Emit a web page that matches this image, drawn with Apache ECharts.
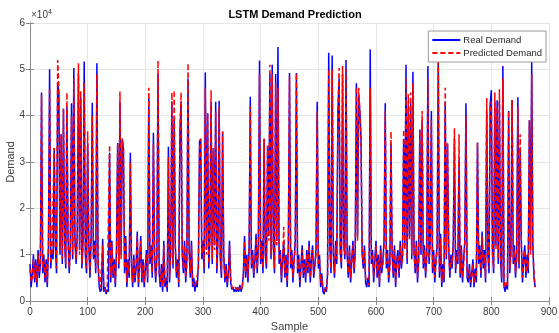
<!DOCTYPE html>
<html>
<head>
<meta charset="utf-8">
<title>LSTM Demand Prediction</title>
<script src="https://cdn.jsdelivr.net/npm/echarts@6/dist/echarts.min.js"></script>
<style>
  html, body { margin: 0; padding: 0; background: #fff; }
  #main { width: 559px; height: 333px; }
</style>
</head>
<body>
<div id="main"></div>
<script>
// demand values in units of 1e4, one value every 2 samples (sample = i * 2)
var sampleStep = 2;
var xTicks = [0, 100, 200, 300, 400, 500, 600, 700, 800, 900];
var yTicks = [0, 1, 2, 3, 4, 5, 6];

var realDemand = [
  0.8,0.3,0.6,1.0,0.4,0.9,0.3,1.1,0.5,0.8,4.5,0.6,1.0,0.4,0.9,0.3,1.2,5.0,0.7,1.1,
  0.9,3.3,1.2,0.6,4.7,4.5,1.0,3.6,0.8,4.15,1.3,0.7,4.2,1.4,0.6,1.2,4.27,0.9,5.03,1.3,
  0.8,1.5,4.9,1.1,4.4,0.7,1.3,5.17,1.0,0.6,3.4,1.2,0.5,1.4,4.28,0.9,1.3,0.6,5.13,0.8,
  0.3,0.2,0.25,1.34,0.2,0.3,0.15,0.25,0.2,3.2,0.4,1.3,0.5,0.9,0.3,1.1,3.41,0.7,4.3,1.0,
  3.5,3.3,0.6,1.4,0.3,0.9,0.5,3.2,0.8,0.3,1.0,0.4,0.7,1.5,0.3,0.8,1.4,0.4,0.9,0.3,
  0.7,1.1,0.4,4.4,0.8,1.2,0.5,3.63,0.9,0.4,1.0,4.9,0.6,0.3,0.8,0.2,1.3,0.3,0.5,0.2,
  3.33,0.4,1.1,4.3,0.7,3.9,1.2,0.5,0.9,0.3,3.66,4.3,1.0,0.6,1.3,0.4,0.9,4.8,1.1,0.5,
  1.3,0.3,0.5,0.2,0.4,0.3,0.8,3.44,3.5,0.9,1.3,0.6,4.93,1.1,4.05,0.7,1.4,4.3,0.8,3.3,
  1.2,4.3,0.6,1.4,4.32,0.9,0.5,3.66,1.0,0.4,0.8,0.3,0.6,1.3,0.4,0.25,0.3,0.2,0.25,0.2,
  0.3,0.2,0.35,0.2,0.3,0.6,1.4,0.5,1.0,0.4,1.2,4.41,0.7,1.1,0.5,0.9,1.45,0.6,1.2,5.19,
  0.8,1.3,0.6,3.5,1.0,0.7,3.35,1.4,4.9,0.9,5.1,1.2,0.6,4.9,1.3,5.48,0.8,1.1,0.4,0.9,
  1.3,0.5,1.0,0.3,1.2,4.92,0.7,1.1,0.4,0.9,1.3,4.92,0.6,1.0,0.3,0.8,1.2,0.5,0.9,0.4,
  1.1,0.6,1.3,0.4,0.9,1.2,0.5,0.8,1.1,4.3,0.7,1.0,0.3,0.6,0.2,0.15,0.3,0.2,0.6,5.36,
  1.2,0.6,5.3,1.0,0.5,1.3,0.8,4.1,4.8,1.1,0.7,4.9,1.3,0.9,5.2,1.0,0.5,1.2,0.4,0.9,
  1.3,0.6,1.1,4.7,1.4,4.4,4.1,3.5,1.0,0.7,1.2,0.4,0.3,0.5,0.3,5.43,0.8,1.1,0.4,0.9,
  1.3,0.5,1.0,0.3,1.2,0.6,0.9,1.3,4.27,0.7,1.1,0.4,0.8,3.4,1.0,0.5,1.2,0.3,0.9,1.1,
  0.5,1.3,0.7,1.0,3.5,1.2,5.1,0.8,4.2,1.4,4.3,0.9,4.95,1.1,0.6,1.3,0.4,0.9,3.7,1.0,
  3.9,0.7,1.2,0.5,1.0,5.07,0.8,1.3,4.1,0.6,1.1,0.4,0.9,1.2,5.16,0.5,1.45,0.3,0.8,0.4,
  4.3,0.9,3.4,1.2,0.5,1.0,0.7,1.3,3.5,0.6,1.1,0.8,3.05,0.5,1.2,0.4,0.9,1.3,4.27,0.5,
  0.4,0.8,0.3,0.6,0.9,0.3,0.7,0.4,3.42,0.8,1.2,0.5,1.5,0.7,1.1,0.4,4.1,1.0,0.6,4.25,
  4.55,1.1,0.6,4.3,1.2,4.33,0.8,4.3,0.9,0.4,5.07,0.3,0.2,0.4,0.25,4.1,0.6,1.1,4.34,0.8,
  1.2,0.5,1.0,4.4,0.7,3.3,1.3,0.4,0.9,1.2,0.5,1.0,0.6,3.9,1.1,5.16,1.2,0.5,0.3
];

var predictedDemand = [
  0.7,0.4,0.5,0.9,0.5,0.8,0.4,1.0,0.6,0.9,4.45,0.7,0.9,0.5,0.8,0.4,1.1,4.6,0.8,1.0,
  1.0,3.3,1.1,0.7,5.2,4.6,1.1,3.6,0.9,4.15,1.2,0.8,4.5,1.3,0.7,1.1,4.0,1.0,4.8,1.2,
  0.9,1.4,5.13,1.0,4.54,0.8,1.2,4.7,1.1,0.7,3.66,1.1,0.6,1.3,4.0,1.0,1.2,0.7,4.9,0.9,
  0.4,0.3,0.3,1.2,0.3,0.3,0.2,0.3,0.3,3.37,0.5,1.2,0.6,0.8,0.4,1.0,3.41,0.8,4.52,0.9,
  3.5,3.3,0.7,1.3,0.4,0.8,0.6,3.0,0.9,0.4,0.9,0.5,0.8,1.4,0.4,0.7,1.3,0.5,0.8,0.4,
  0.8,1.0,0.5,4.6,0.9,1.1,0.6,3.4,1.0,0.5,0.9,5.19,0.7,0.4,0.7,0.3,1.2,0.4,0.4,0.3,
  3.1,0.5,1.0,4.5,0.8,4.55,1.1,0.6,0.8,0.4,3.66,4.5,1.1,0.7,1.2,0.5,0.8,5.13,1.0,0.6,
  1.2,0.4,0.4,0.3,0.4,0.4,0.7,3.3,3.5,1.0,1.2,0.7,4.6,1.0,4.05,0.8,1.3,4.55,0.9,3.3,
  1.1,4.1,0.7,1.3,4.2,1.0,0.6,3.66,0.9,0.5,0.7,0.4,0.5,1.2,0.5,0.3,0.3,0.25,0.3,0.25,
  0.3,0.25,0.3,0.25,0.3,0.5,1.3,0.6,0.9,0.5,1.1,4.2,0.8,1.0,0.6,0.8,1.35,0.7,1.1,4.9,
  0.9,1.2,0.7,3.5,1.1,0.8,3.35,1.3,5.1,1.0,4.9,1.1,0.7,4.7,1.2,4.6,0.9,1.0,0.5,0.8,
  1.6,0.6,0.9,0.4,1.1,4.85,0.8,1.0,0.5,0.8,1.2,4.92,0.7,0.9,0.4,0.7,1.1,0.6,0.8,0.5,
  1.0,0.7,1.2,0.5,0.8,1.1,0.6,0.7,1.0,4.1,0.8,0.9,0.4,0.5,0.3,0.2,0.3,0.25,0.5,5.0,
  1.1,0.7,5.0,1.1,0.6,1.2,0.9,4.1,5.03,1.0,0.8,5.07,1.2,1.0,5.0,1.1,0.6,1.1,0.5,0.8,
  1.2,0.7,1.0,4.62,1.3,4.6,4.1,3.5,1.1,0.8,1.1,0.5,0.4,0.4,0.35,4.6,0.9,1.0,0.5,0.8,
  1.2,0.6,0.9,0.4,1.1,0.7,0.8,1.2,4.1,0.8,1.0,0.5,0.7,3.66,1.1,0.6,1.1,0.4,0.8,1.0,
  0.6,1.2,0.8,0.9,3.7,1.1,4.8,0.9,4.46,1.3,4.5,1.0,4.7,1.0,0.7,1.2,0.5,0.8,3.7,1.1,
  4.1,0.8,1.1,0.6,0.9,4.8,0.9,1.2,3.9,0.7,1.0,0.5,0.8,1.1,5.16,0.6,1.35,0.4,0.7,0.5,
  4.6,1.0,3.4,1.1,0.6,0.9,0.8,1.2,3.73,0.7,1.0,0.9,3.6,0.6,1.1,0.5,0.8,1.2,4.0,0.6,
  0.5,0.7,0.4,0.5,0.8,0.4,0.6,0.5,3.42,0.9,1.1,0.6,1.4,0.8,1.0,0.5,4.38,1.1,0.7,4.25,
  4.3,1.0,0.7,4.5,1.1,4.2,0.9,4.57,1.0,0.5,4.8,0.4,0.3,0.4,0.3,4.1,0.7,1.0,4.34,0.9,
  1.1,0.6,0.9,4.2,0.8,3.6,1.2,0.5,0.8,1.1,0.6,0.9,0.7,3.9,1.0,4.9,1.1,0.6,0.3
];

var font = "'Liberation Sans', Arial, Helvetica, sans-serif";
var axisColor = '#8a8a8a';
var labelColor = '#404040';

function toPairs(arr) {
  return arr.map(function (v, i) { return [i * sampleStep, v]; });
}

var myChart = echarts.init(document.getElementById('main'), null, { renderer: 'canvas' });

var option = {
  backgroundColor: '#ffffff',
  animation: false,
  title: {
    text: 'LSTM Demand Prediction',
    left: 290, top: 4,
    textAlign: 'center',
    textStyle: { fontFamily: font, fontSize: 11, fontWeight: 'bold', color: '#000' }
  },
  legend: {
    orient: 'vertical',
    right: 13, top: 31,
    itemWidth: 28, itemHeight: 9, itemGap: 3,
    padding: [4, 4, 4, 3],
    backgroundColor: '#fff',
    borderColor: '#9a9a9a', borderWidth: 1,
    itemStyle: { color: 'rgba(0,0,0,0)', borderColor: 'rgba(0,0,0,0)', borderWidth: 0 },
    textStyle: { fontFamily: font, fontSize: 9.5, color: '#262626', padding: [0, 0, 0, -2] },
    data: ['Real Demand', 'Predicted Demand']
  },
  grid: { left: 30, right: 10, top: 23, bottom: 32, containLabel: false, outerBoundsMode: 'none' },
  xAxis: [{
    type: 'value', min: xTicks[0], max: xTicks[xTicks.length - 1], interval: 100,
    name: 'Sample', nameLocation: 'middle', nameGap: 20, nameMoveOverlap: false,
    nameTextStyle: { fontFamily: font, fontSize: 11, color: labelColor },
    axisLine: { lineStyle: { color: axisColor, width: 1 } },
    axisTick: { inside: true, length: 4, lineStyle: { color: axisColor } },
    axisLabel: { fontFamily: font, fontSize: 10, color: labelColor, margin: 6 },
    splitLine: { show: true, lineStyle: { color: '#e6e6e6', width: 1 } }
  }, {
    type: 'value', position: 'top', min: 0, max: 900, interval: 100,
    axisLine: { lineStyle: { color: axisColor, width: 1 } },
    axisTick: { inside: true, length: 4, lineStyle: { color: axisColor } },
    axisLabel: { show: false }, splitLine: { show: false }
  }],
  yAxis: [{
    type: 'value', min: yTicks[0], max: yTicks[yTicks.length - 1], interval: 1,
    name: 'Demand', nameLocation: 'middle', nameGap: 14, nameMoveOverlap: false,
    nameTextStyle: { fontFamily: font, fontSize: 11, color: labelColor },
    axisLine: { show: true, lineStyle: { color: axisColor, width: 1 } },
    axisTick: { show: true, inside: true, length: 4, lineStyle: { color: axisColor } },
    axisLabel: { fontFamily: font, fontSize: 10, color: labelColor, margin: 5 },
    splitLine: { show: true, lineStyle: { color: '#e6e6e6', width: 1 } }
  }, {
    type: 'value', position: 'right', min: 0, max: 6, interval: 1,
    axisLine: { show: true, lineStyle: { color: axisColor, width: 1 } },
    axisTick: { show: true, inside: true, length: 4, lineStyle: { color: axisColor } },
    axisLabel: { show: false }, splitLine: { show: false }
  }],
  graphic: [{
    type: 'text', left: 31, top: 9,
    style: {
      text: '{a|×10}{b|4}',
      rich: {
        a: { fontFamily: font, fontSize: 10, fill: labelColor },
        b: { fontFamily: font, fontSize: 7, fill: labelColor, verticalAlign: 'top', padding: [0, 0, 6, 0] }
      }
    }
  }],
  series: [{
    name: 'Real Demand', type: 'line',
    data: toPairs(realDemand),
    showSymbol: false, symbol: 'none',
    lineStyle: { color: '#0000ff', width: 1.5 },
    itemStyle: { color: '#0000ff' },
    z: 2
  }, {
    name: 'Predicted Demand', type: 'line',
    data: toPairs(predictedDemand),
    showSymbol: false, symbol: 'none',
    lineStyle: { color: '#ff0000', width: 1.5, type: [5, 3] },
    itemStyle: { color: '#ff0000' },
    z: 3
  }]
};

myChart.setOption(option);
</script>
</body>
</html>
